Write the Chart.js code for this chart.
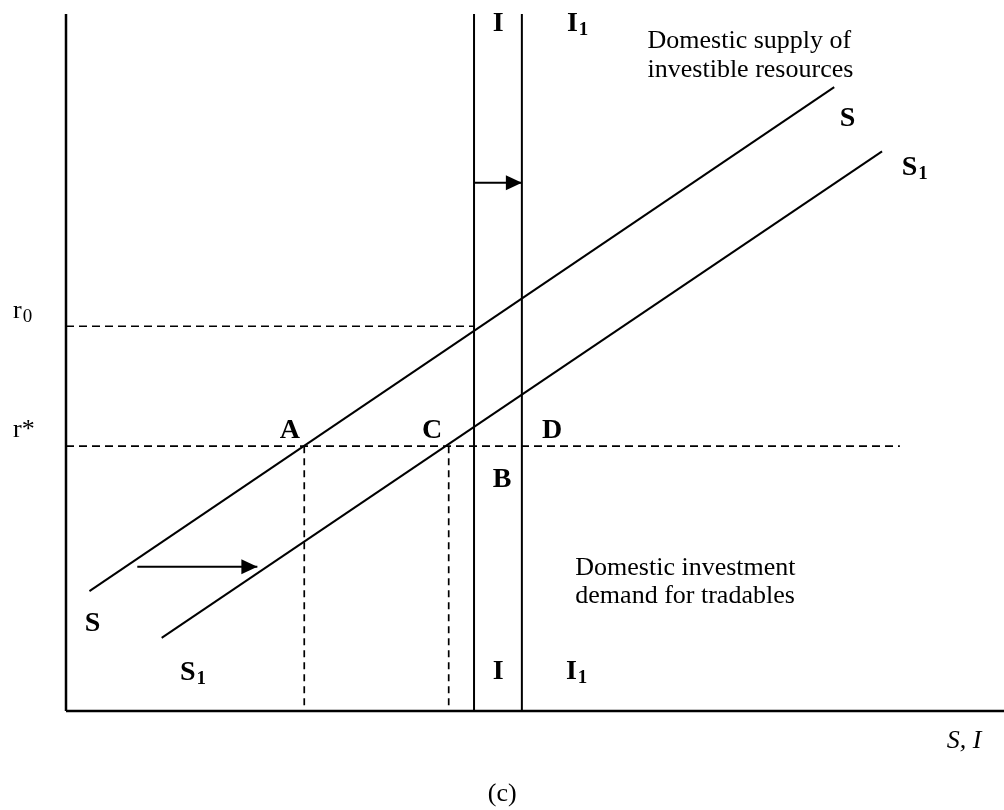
<!DOCTYPE html>
<html>
<head>
<meta charset="utf-8">
<script src="https://cdn.jsdelivr.net/npm/chart.js@4/dist/chart.umd.min.js"></script>
<style>
  body { margin: 0; background: #fff; }
  #wrap { width: 1004px; height: 810px; position: relative; }
</style>
</head>
<body>
<div id="wrap"><canvas id="diagram"></canvas></div>
<script>
// supply curves (S, S1), in axis units 0..100
const supplyX = [2.5, 81.9];
const supplyY = [17.2, 89.5];
const supply1X = [10.2, 87.0];
const supply1Y = [10.5, 80.3];

// investment demand (vertical) and interest rates
const investX = 43.5;
const invest1X = 48.6;
const rateZero = 55.2;
const rateStar = 38.0;
const rateStarEnd = 88.9;

// where r* meets S and S1
const pointAX = 25.4;
const pointCX = 40.8;

// shift arrows
const shiftIY = 75.8;
const shiftSX = [7.6, 20.4];
const shiftSY = 20.7;

const axisTop = 100;
const axisRight = 100;

// text labels: [text, subscript, x, y, bold]
const labels = [
  ['I', '', 45.5, 97.6, true],
  ['I', '1', 53.4, 97.6, true],
  ['S', '', 82.5, 83.9, true],
  ['S', '1', 89.1, 76.9, true],
  ['r', '0', -5.65, 56.4, false],
  ['r*', '', -5.65, 39.3, false],
  ['A', '', 22.8, 39.2, true],
  ['C', '', 37.95, 39.2, true],
  ['D', '', 50.75, 39.2, true],
  ['B', '', 45.5, 32.1, true],
  ['S', '', 2.0, 11.5, true],
  ['S', '1', 12.15, 4.45, true],
  ['I', '', 45.5, 4.6, true],
  ['I', '1', 53.3, 4.6, true]
];
const notes = [
  ['Domestic supply of', 62.0, 95.1],
  ['investible resources', 62.0, 91.0],
  ['Domestic investment', 54.3, 19.5],
  ['demand for tradables', 54.3, 15.5]
];

const pts = (xs, ys) => xs.map((x, i) => ({ x: x, y: ys[i] }));

function line(data, width, dash) {
  return {
    data: data,
    showLine: true,
    borderColor: '#000',
    borderWidth: width,
    borderDash: dash || [],
    pointRadius: 0,
    clip: false
  };
}

const arrowPlugin = {
  id: 'arrowsAndText',
  afterDatasetsDraw(chart) {
    const ctx = chart.ctx;
    const xs = chart.scales.x, ys = chart.scales.y;
    ctx.save();
    ctx.fillStyle = '#000';

    // arrowheads on the last point of the arrow datasets
    chart.data.datasets.forEach(ds => {
      if (!ds.arrow) return;
      const d = ds.data;
      const x0 = xs.getPixelForValue(d[0].x), y0 = ys.getPixelForValue(d[0].y);
      const x1 = xs.getPixelForValue(d[1].x), y1 = ys.getPixelForValue(d[1].y);
      const a = Math.atan2(y1 - y0, x1 - x0);
      const len = 16, half = 7.5;
      ctx.beginPath();
      ctx.moveTo(x1, y1);
      ctx.lineTo(x1 - len * Math.cos(a) + half * Math.sin(a), y1 - len * Math.sin(a) - half * Math.cos(a));
      ctx.lineTo(x1 - len * Math.cos(a) - half * Math.sin(a), y1 - len * Math.sin(a) + half * Math.cos(a));
      ctx.closePath();
      ctx.fill();
    });

    ctx.textBaseline = 'alphabetic';
    ctx.textAlign = 'left';
    labels.forEach(([t, sub, x, y, bold]) => {
      const px = xs.getPixelForValue(x), py = ys.getPixelForValue(y);
      ctx.font = (bold ? 'bold 28px' : '26px') + ' "Liberation Serif", serif';
      ctx.fillText(t, px, py);
      if (sub) {
        const w = ctx.measureText(t).width;
        ctx.font = (bold ? 'bold 19px' : '19px') + ' "Liberation Serif", serif';
        ctx.fillText(sub, px + w + 1, py + 4);
      }
    });

    ctx.font = '26px "Liberation Serif", serif';
    notes.forEach(([t, x, y]) => {
      ctx.fillText(t, xs.getPixelForValue(x), ys.getPixelForValue(y));
    });

    ctx.font = 'italic 26px "Liberation Serif", serif';
    ctx.fillText('S, I', xs.getPixelForValue(93.9), ys.getPixelForValue(-5.3));

    ctx.font = '26px "Liberation Serif", serif';
    ctx.textAlign = 'center';
    ctx.fillText('(c)', xs.getPixelForValue(46.5), ys.getPixelForValue(-12.9));
    ctx.restore();
  }
};

const shiftI = line([{ x: investX, y: shiftIY }, { x: invest1X, y: shiftIY }], 2);
shiftI.arrow = true;
const shiftS = line(pts(shiftSX, [shiftSY, shiftSY]), 2);
shiftS.arrow = true;

new Chart(document.getElementById('diagram').getContext('2d'), {
  type: 'scatter',
  data: {
    datasets: [
      line([{ x: 0, y: 0 }, { x: 0, y: axisTop }], 2.5),
      line([{ x: 0, y: 0 }, { x: axisRight, y: 0 }], 2.5),
      line(pts(supplyX, supplyY), 2),
      line(pts(supply1X, supply1Y), 2),
      line([{ x: investX, y: 0 }, { x: investX, y: axisTop }], 2),
      line([{ x: invest1X, y: 0 }, { x: invest1X, y: axisTop }], 2),
      line([{ x: 0, y: rateZero }, { x: investX, y: rateZero }], 1.7, [8, 5]),
      line([{ x: 0, y: rateStar }, { x: rateStarEnd, y: rateStar }], 1.7, [8, 5]),
      line([{ x: pointAX, y: rateStar }, { x: pointAX, y: 0 }], 1.7, [7, 5]),
      line([{ x: pointCX, y: rateStar }, { x: pointCX, y: 0 }], 1.7, [7, 5]),
      shiftI,
      shiftS
    ]
  },
  options: {
    responsive: true,
    maintainAspectRatio: false,
    animation: false,
    layout: { padding: { left: 66, top: 14, right: 0, bottom: 99 } },
    scales: {
      x: { type: 'linear', min: 0, max: 100, display: false },
      y: { type: 'linear', min: 0, max: 100, display: false }
    },
    plugins: {
      legend: { display: false },
      tooltip: { enabled: false }
    }
  },
  plugins: [arrowPlugin]
});
</script>
</body>
</html>
